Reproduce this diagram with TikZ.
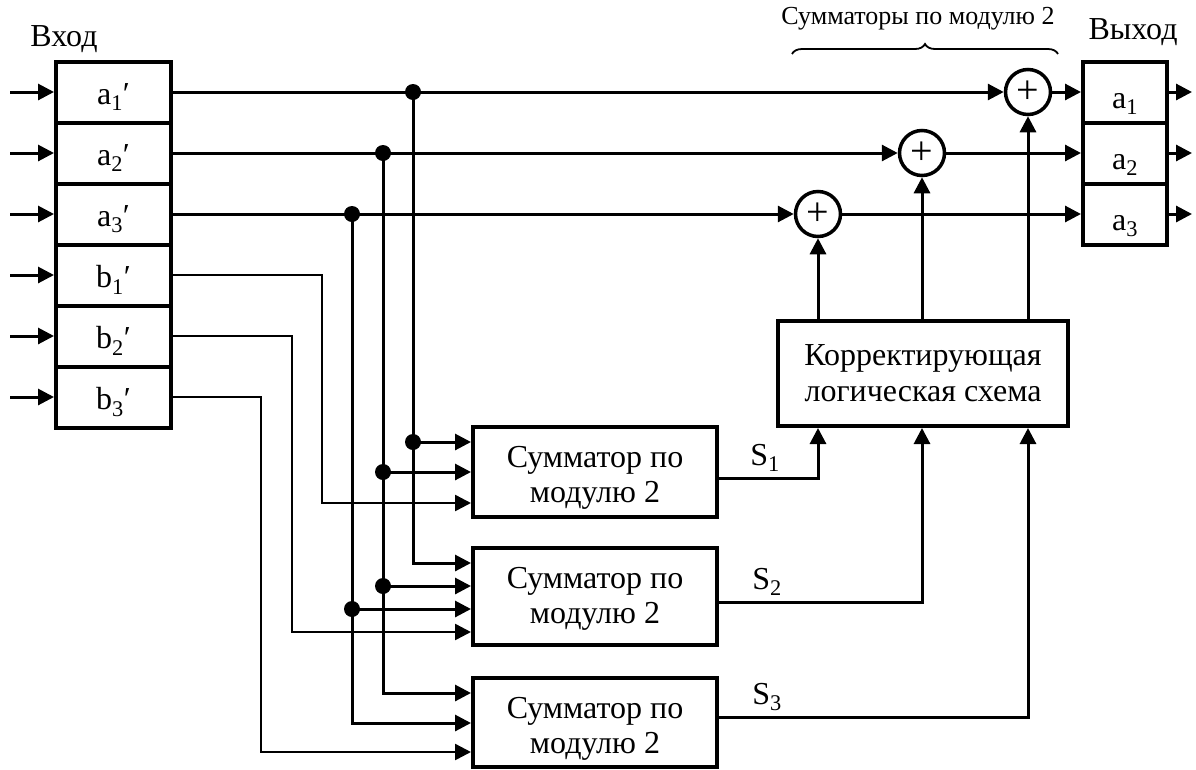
\documentclass[tikz,border=0pt]{standalone}
\usepackage{fontspec}
\setmainfont{Liberation Serif}
\usetikzlibrary{arrows.meta,decorations.pathreplacing}
\newcommand\lowtext[2]{\raisebox{-#1}[\height][\depth]{#2}}
\begin{document}
\begin{tikzpicture}[x=1pt,y=-1pt,
  box/.style={draw,line width=4pt,rectangle,inner sep=0pt,align=center,font=\fontsize{32}{35}\selectfont},
  boxtext/.style={inner sep=0pt,align=center,font=\fontsize{32}{35}\selectfont},
  cell/.style={box,minimum width=115pt,minimum height=61pt},
  ocell/.style={box,minimum width=84pt,minimum height=61pt},
  xorc/.style={draw,circle,line width=3.5pt,minimum size=45pt,inner sep=0pt,font=\fontsize{40}{40}\selectfont},
  wire/.style={line width=3pt},
  thinwire/.style={line width=2.5pt},
  arr/.style={wire,-{Triangle[length=16pt,width=16pt]}},
  tarr/.style={thinwire,-{Triangle[length=16pt,width=16pt]}},
  lbl/.style={font=\fontsize{32}{34}\selectfont}
]
\useasboundingbox (0,0) rectangle (1196,769);

% input register
\node[cell] (ia1) at (113.5,92) {\lowtext{5pt}{a\textsubscript{1}′}};
\node[cell] (ia2) at (113.5,153) {\lowtext{5pt}{a\textsubscript{2}′}};
\node[cell] (ia3) at (113.5,214) {\lowtext{5pt}{a\textsubscript{3}′}};
\node[cell] (ib1) at (113.5,275) {\lowtext{5pt}{b\textsubscript{1}′}};
\node[cell] (ib2) at (113.5,336) {\lowtext{5pt}{b\textsubscript{2}′}};
\node[cell] (ib3) at (113.5,397) {\lowtext{5pt}{b\textsubscript{3}′}};

% output register
\node[ocell] (oa1) at (1125,92) {\lowtext{12pt}{a\textsubscript{1}}};
\node[ocell] (oa2) at (1125,153) {\lowtext{12pt}{a\textsubscript{2}}};
\node[ocell] (oa3) at (1125,214) {\lowtext{12pt}{a\textsubscript{3}}};

% xor circles
\node[xorc] (x1) at (1028,92) {+};
\node[xorc] (x2) at (922,153) {+};
\node[xorc] (x3) at (818,214) {+};

% summators
\node[box,minimum width=244pt,minimum height=90pt] (s1) at (595,472) {};
\node[box,minimum width=244pt,minimum height=97pt] (s2) at (595,596.5) {};
\node[box,minimum width=244pt,minimum height=89pt] (s3) at (595,722.5) {};
\node[boxtext] (s1t) at (595,478) {Сумматор по\\модулю 2};
\node[boxtext] (s2t) at (595,599) {Сумматор по\\модулю 2};
\node[boxtext] (s3t) at (595,729) {Сумматор по\\модулю 2};

% correction logic
\node[box,minimum width=290pt,minimum height=105pt,font=\fontsize{32}{36}\selectfont] (kl) at (923,373.5) {Корректирующая\\логическая схема};

% labels
\node[lbl] (vh) at (64,39) {Вход};
\node[lbl] (vyh) at (1133,32) {Выход};
\node[font=\fontsize{26}{28}\selectfont] (bl) at (918,19) {Сумматоры по модулю 2};
\draw[line width=1.8pt,decorate,decoration={brace,amplitude=10pt}] (792,54) -- (1058,54);
\node[lbl] (ls1) at (765,458) {S\textsubscript{1}};
\node[lbl] (ls2) at (767,582) {S\textsubscript{2}};
\node[lbl] (ls3) at (767,697) {S\textsubscript{3}};

% coordinates
\coordinate (in1) at (10,92);
\coordinate (in2) at (10,153);
\coordinate (in3) at (10,214);
\coordinate (in4) at (10,275);
\coordinate (in5) at (10,336);
\coordinate (in6) at (10,397);
\coordinate (out1) at (1192,92);
\coordinate (out2) at (1192,153);
\coordinate (out3) at (1192,214);

\coordinate (j1) at (413,92);
\coordinate (j2) at (383,153);
\coordinate (j3) at (352,214);
\coordinate (b1t) at (322,275);
\coordinate (b2t) at (292,336);
\coordinate (b3t) at (261,397);
\coordinate (j1a) at (413,442);
\coordinate (j1b) at (413,563);
\coordinate (j2a) at (383,472);
\coordinate (j2b) at (383,586);
\coordinate (j2c) at (383,693);
\coordinate (j3a) at (352,609);
\coordinate (j3b) at (352,723);
\coordinate (b1b) at (322,503);
\coordinate (b2b) at (292,632);
\coordinate (b3b) at (261,752);
\coordinate (t1) at (818,478);
\coordinate (t2) at (922,602);
\coordinate (t3) at (1028,717);

% input / output arrows
\foreach \i/\c in {in1/ia1,in2/ia2,in3/ia3,in4/ib1,in5/ib2,in6/ib3}
  \draw[arr] (\i) -- (\c.west);
\foreach \c/\o in {oa1/out1,oa2/out2,oa3/out3}
  \draw[arr] (\c.east) -- (\o);

% data lines to xor
\draw[arr] (ia1.east) -- (x1.west);
\draw[arr] (ia2.east) -- (x2.west);
\draw[arr] (ia3.east) -- (x3.west);
\draw[arr] (x1.east) -- (oa1.west);
\draw[arr] (x2.east) -- (oa2.west);
\draw[arr] (x3.east) -- (oa3.west);

% verticals to summators
\draw[arr] (j1) -- (j1b) -- (j1b -| s2.west);
\draw[arr] (j1a) -- (j1a -| s1.west);
\draw[arr] (j2) -- (j2c) -- (j2c -| s3.west);
\draw[arr] (j2a) -- (j2a -| s1.west);
\draw[arr] (j2b) -- (j2b -| s2.west);
\draw[arr] (j3) -- (j3b) -- (j3b -| s3.west);
\draw[arr] (j3a) -- (j3a -| s2.west);
\draw[tarr] (ib1.east) -- (b1t) -- (b1b) -- (b1b -| s1.west);
\draw[tarr] (ib2.east) -- (b2t) -- (b2b) -- (b2b -| s2.west);
\draw[tarr] (ib3.east) -- (b3t) -- (b3b) -- (b3b -| s3.west);

% syndromes
\draw[arr] (t1 -| s1.east) -- (t1) -- (t1 |- kl.south);
\draw[arr] (t2 -| s2.east) -- (t2) -- (t2 |- kl.south);
\draw[arr] (t3 -| s3.east) -- (t3) -- (t3 |- kl.south);

% correction outputs
\draw[arr] (x3 |- kl.north) -- (x3.south);
\draw[arr] (x2 |- kl.north) -- (x2.south);
\draw[arr] (x1 |- kl.north) -- (x1.south);

% junction dots
\foreach \p in {j1,j2,j3,j1a,j2a,j2b,j3a}
  \fill (\p) circle (8pt);
\end{tikzpicture}
\end{document}
